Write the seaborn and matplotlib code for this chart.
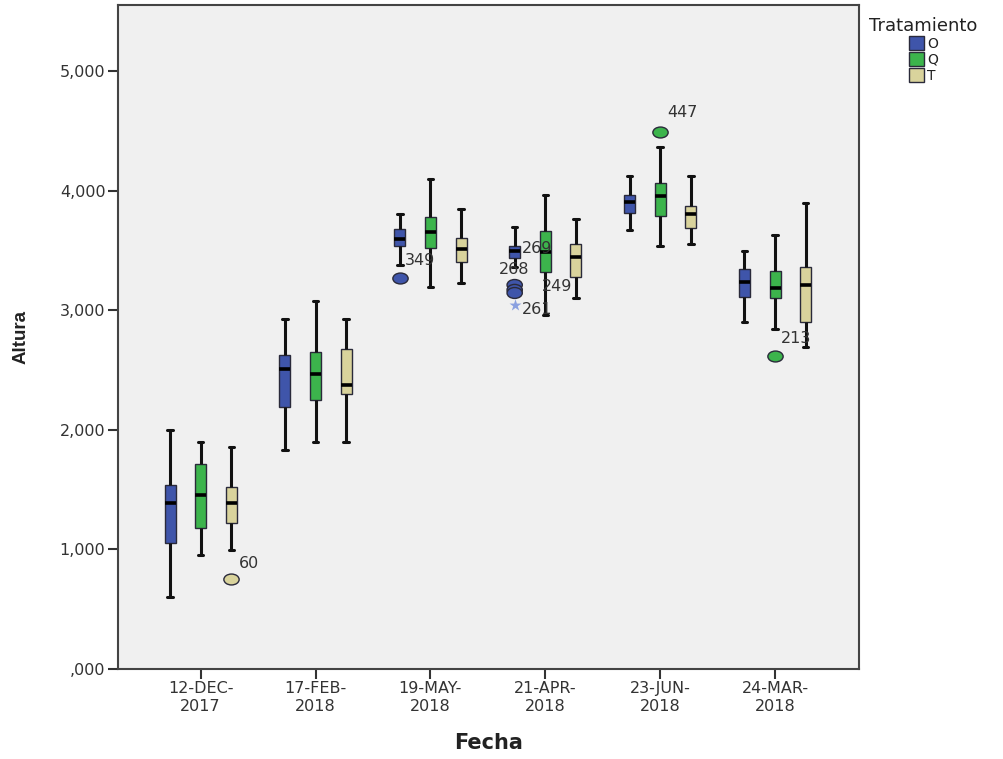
import numpy as np
import pandas as pd
import seaborn as sns
import matplotlib
matplotlib.use("Agg")
import matplotlib.pyplot as plt
from matplotlib.path import Path
import matplotlib.transforms as mtrans
from matplotlib.ticker import FuncFormatter

# ---------------- data (Altura in metres) ----------------
fechas = ["12-DEC-\n2017", "17-FEB-\n2018", "19-MAY-\n2018",
          "21-APR-\n2018", "23-JUN-\n2018", "24-MAR-\n2018"]
tratamientos = ["O", "Q", "T"]

whislo = {"O": [0.602, 1.831, 3.378, 3.361, 3.671, 2.901],
          "Q": [0.953, 1.898, 3.194, 2.960, 3.537, 2.843],
          "T": [0.995, 1.898, 3.227, 3.102, 3.554, 2.692]}
q1 = {"O": [1.054, 2.191, 3.537, 3.436, 3.813, 3.110],
      "Q": [1.179, 2.249, 3.520, 3.320, 3.788, 3.102],
      "T": [1.221, 2.299, 3.403, 3.278, 3.687, 2.901]}
med = {"O": [1.388, 2.508, 3.595, 3.495, 3.905, 3.236],
       "Q": [1.455, 2.467, 3.654, 3.487, 3.955, 3.186],
       "T": [1.388, 2.375, 3.512, 3.445, 3.804, 3.211]}
q3 = {"O": [1.538, 2.625, 3.679, 3.537, 3.963, 3.344],
      "Q": [1.714, 2.651, 3.779, 3.662, 4.064, 3.328],
      "T": [1.522, 2.676, 3.604, 3.554, 3.871, 3.361]}
whishi = {"O": [2.000, 2.926, 3.804, 3.696, 4.122, 3.495],
          "Q": [1.898, 3.077, 4.097, 3.963, 4.365, 3.629],
          "T": [1.856, 2.926, 3.846, 3.763, 4.122, 3.896]}

# outliers: fecha index, tratamiento, value, case label
out_fecha = [0, 2, 3, 3, 3, 4, 5]
out_trat = ["T", "O", "O", "O", "O", "Q", "Q"]
out_val = [0.752, 3.269, 3.211, 3.170, 3.144, 4.490, 2.617]
out_label = ["60", "349", "268", "269", "249", "447", "213"]
# extreme value (star)
ext_fecha = [3]
ext_trat = ["O"]
ext_val = [3.043]
ext_label = ["261"]

# label offsets in pixels (layout only)
out_offsets = [(8, 16), (5, 18), (-16, 15), (7, 41), (27, 6), (7, 20), (6, 18)]
ext_offsets = [(7, -4)]

palette = {"O": "#3f55aa", "Q": "#3cb44c", "T": "#d9d39c"}

# ---------------- build long-form table ----------------
rows = []
for t in tratamientos:
    for i, f in enumerate(fechas):
        vals = [whislo[t][i], q1[t][i], q1[t][i], med[t][i],
                q3[t][i], q3[t][i], whishi[t][i]]
        for v in vals:
            rows.append({"Fecha": f, "Tratamiento": t, "Altura": v})
df = pd.DataFrame(rows)
df_out = pd.DataFrame({"Fecha": [fechas[i] for i in out_fecha],
                       "Tratamiento": out_trat, "Altura": out_val})
df_ext = pd.DataFrame({"Fecha": [fechas[i] for i in ext_fecha],
                       "Tratamiento": ext_trat, "Altura": ext_val})

# ---------------- plot ----------------
sns.set_theme(style="ticks")
plt.rcParams["font.family"] = ["DejaVu Sans"]

fig = plt.figure(figsize=(10.04, 7.59), dpi=100)
fig.patch.set_facecolor("white")
ax = fig.add_axes([0.1175, 0.1186, 0.738, 0.8748])
ax.set_facecolor("#f0f0f0")

sns.boxplot(data=df, x="Fecha", y="Altura", hue="Tratamiento",
            order=fechas, hue_order=tratamientos, palette=palette,
            width=0.8, gap=0.64, whis=(0, 100), saturation=1,
            linecolor="#2a2a3a", linewidth=1.0, showfliers=False,
            whiskerprops=dict(color="#111111", linewidth=2.2),
            capprops=dict(color="#111111", linewidth=2.2),
            medianprops=dict(color="#000000", linewidth=2.6),
            ax=ax)

ellipse = Path.unit_circle().transformed(mtrans.Affine2D().scale(1.4, 1.0))
sns.stripplot(data=df_out, x="Fecha", y="Altura", hue="Tratamiento",
              order=fechas, hue_order=tratamientos, palette=palette,
              dodge=True, jitter=False, marker=ellipse, size=11,
              linewidth=1.0, edgecolor="#2a2a3a", legend=False, ax=ax)
sns.stripplot(data=df_ext, x="Fecha", y="Altura", hue="Tratamiento",
              order=fechas, hue_order=tratamientos,
              palette={"O": "#8aa0e0", "Q": "#8aa0e0", "T": "#8aa0e0"},
              dodge=True, jitter=False, marker="*", size=9,
              linewidth=0, legend=False, ax=ax)

# case labels
step = 0.8 / len(tratamientos)
def xpos(fi, t):
    return fi + (tratamientos.index(t) - (len(tratamientos) - 1) / 2) * step

for fi, t, v, lab, (dx, dy) in zip(out_fecha, out_trat, out_val, out_label, out_offsets):
    ax.annotate(lab, xy=(xpos(fi, t), v), xytext=(dx, dy), textcoords="offset pixels",
                ha="left", va="center", fontsize=11.5, color="#333333")
for fi, t, v, lab, (dx, dy) in zip(ext_fecha, ext_trat, ext_val, ext_label, ext_offsets):
    ax.annotate(lab, xy=(xpos(fi, t), v), xytext=(dx, dy), textcoords="offset pixels",
                ha="left", va="center", fontsize=11.5, color="#333333")

# axes styling
ax.set_xlim(-0.72, 5.73)
ax.set_ylim(0, 5.552)
ax.set_yticks([0, 1, 2, 3, 4, 5])

def fmt(v, pos):
    s = f"{v:.3f}".replace(".", ",")
    if s.startswith("0,"):
        s = s[1:]
    return s

ax.yaxis.set_major_formatter(FuncFormatter(fmt))
ax.tick_params(axis="both", direction="out", length=7, width=1.5,
               color="#333333", labelcolor="#333333", labelsize=11.5, pad=2)
for sp in ax.spines.values():
    sp.set_color("#444444")
    sp.set_linewidth(1.5)
    sp.set_visible(True)

ax.set_xlabel("Fecha", fontsize=15, fontweight="bold", color="#222222", labelpad=14)
ax.set_ylabel("Altura", fontsize=13.5, fontweight="bold", color="#222222",
              family=["Liberation Sans Narrow", "Liberation Sans"], labelpad=22)

sns.move_legend(ax, "upper left", bbox_to_anchor=(0.866, 0.978),
                bbox_transform=fig.transFigure, title="Tratamiento",
                frameon=False, fontsize=10, title_fontsize=13,
                handlelength=1.1, handleheight=1.1, handletextpad=0.2,
                labelspacing=0.12, borderpad=0, borderaxespad=0)
leg = ax.get_legend()
for txt in leg.get_texts():
    txt.set_color("#222222")
leg.get_title().set_color("#222222")
for h in leg.legend_handles:
    h.set_edgecolor("#2a2a3a")
    h.set_linewidth(1.0)

fig.savefig("out.png", dpi=100, facecolor="white")
